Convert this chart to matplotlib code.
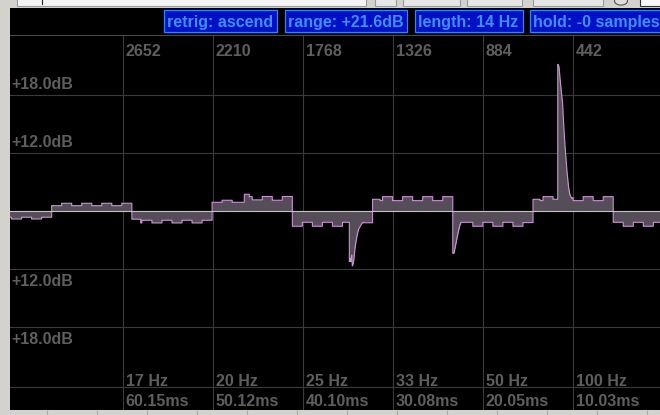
import matplotlib
matplotlib.use('Agg')
import matplotlib.pyplot as plt
from matplotlib.patches import Rectangle, Circle
import numpy as np

plt.rcParams['font.family'] = ['Liberation Sans', 'DejaVu Sans']

W, H = 660, 415

# envelope, one level (dB) per block step, left to right
step_start = 3246.25     # sample number at the left edge of the first step
step_len = 49.25         # samples per step
step_levels = [
    -0.65, -0.83, -0.65, -0.83, -0.65,
    0.55, 0.80, 0.55, 0.80, 0.55, 0.80, 0.55, 0.80,
    -0.85, -0.96, -1.24, -0.96, -1.24, -0.96, -1.24, -0.96,
    0.90, 1.11, 0.90, 0.90, 1.15, 1.50, 1.11, 1.50,
    -1.58, -1.17, -1.58, -1.17, -1.58, -1.17, -1.17, -1.22,
    1.21, 1.48, 1.07, 1.48, 1.07, 1.48, 1.07, 1.48,
    -1.17, -1.17, -1.58, -1.17, -1.58, -1.17, -1.58, -1.20,
    1.21, 1.48, 1.21, 1.38, 1.07, 1.48, 1.07, 1.48,
    -1.17, -1.58, -1.17, -1.58, -1.17,
]

# short level changes inside a step: (from sample, to sample, dB)
sub_steps = [
    (2562.6, 2556.75, -1.24),
    (2053.9, 2029.3, 1.73),
    (2029.3, 2015.0, 1.48),
    (1387.4, 1374.75, 1.07),
    (601.6, 586.75, 1.07),
]

# transients
dip1_s = [1538.2, 1534.7, 1531.3, 1526.4, 1523.4, 1518.5, 1515.1, 1510.2,
          1505.3, 1498.9, 1492.0, 1482.2, 1475.8, 1469.4]
dip1_db = [-5.24, -4.89, -5.24, -4.55, -5.69, -5.41, -4.89, -3.86,
           -3.18, -2.41, -1.86, -1.52, -1.27, -1.17]
dip2_s = [1030.0, 1024.0, 1019.1, 1014.1, 1007.8, 1000.9, 994.5, 989.6]
dip2_db = [-4.38, -4.38, -3.86, -3.34, -2.66, -1.97, -1.45, -1.17]
peak_s = [514.7, 508.3, 503.4, 498.5, 490.1, 486.2, 481.3, 475.4, 469.0,
          460.7, 454.3, 445.9, 441.0]
peak_db = [15.18, 14.93, 13.73, 12.69, 10.97, 9.24, 7.52, 5.79, 4.07,
           2.35, 1.66, 1.31, 1.38]

grid_samples = [2652, 2210, 1768, 1326, 884, 442]
freq_labels = ['17 Hz', '20 Hz', '25 Hz', '33 Hz', '50 Hz', '100 Hz']
time_labels = ['60.15ms', '50.12ms', '40.10ms', '30.08ms', '20.05ms', '10.03ms']
db_grid = [12, 6, -6, -12]
db_labels = ['+18.0dB', '+12.0dB', '+12.0dB', '+18.0dB']
status_labels = ['retrig: ascend', 'range: +21.6dB', 'length: 14 Hz', 'hold: -0 samples']
status_x = [(164, 276.5), (284.5, 407.4), (415.4, 522.7), (530.3, 670)]

# build the trace on a fine sample grid
s = np.arange(3250.0, 0.0, -0.25)
k = np.floor((step_start - s) / step_len).astype(int)
k = np.clip(k, 0, len(step_levels) - 1)
y = np.array(step_levels)[k]
for a, b, v in sub_steps:
    y[(s <= a) & (s > b)] = v
for xs, ys in [(dip1_s, dip1_db), (dip2_s, dip2_db), (peak_s, peak_db)]:
    xs = np.array(xs)
    m = (s <= xs[0]) & (s >= xs[-1])
    y[m] = np.interp(s[m], xs[::-1], np.array(ys)[::-1])

bg = '#d4d2cc'
grid_c = '#3a3a3a'
txt_c = '#5e5e5e'
fill_c = '#554d57'
line_c = '#c892d0'

fig = plt.figure(figsize=(W / 100, H / 100), dpi=100)
fig.patch.set_facecolor(bg)


def fx(px):
    return px / W


def fy(py):
    return 1 - py / H


ax = fig.add_axes([fx(10), fy(410), fx(650), (410 - 8) / H])
ax.set_facecolor('black')
for sp in ax.spines.values():
    sp.set_visible(False)
ax.set_xticks([])
ax.set_yticks([])
ax.set_xlim(3204.5, 12.3)
ax.set_ylim(-20.59, 21.0)

top_f = (410 - 35.5) / 402
sep_f = (410 - 387.3) / 402

for g in grid_samples:
    ax.axvline(g, ymin=0, ymax=top_f, color=grid_c, lw=0.8, zorder=1)
for d in db_grid:
    ax.axhline(d, color=grid_c, lw=0.8, zorder=1)
ax.plot([0, 1], [top_f, top_f], transform=ax.transAxes, color='#4a4a4a', lw=0.8, zorder=1)
ax.plot([0, 1], [sep_f, sep_f], transform=ax.transAxes, color=grid_c, lw=0.8, zorder=1)

ax.fill_between(s, y, 0, step='post', color=fill_c, lw=0, zorder=2)
ax.plot(s, y, drawstyle='steps-post', color=line_c, lw=0.8, zorder=3)
ax.axhline(0, color='#c4c4c4', lw=0.8, zorder=4)

fnt = dict(fontsize=11.5, fontweight='bold', color=txt_c)
for g, lab in zip(grid_samples, grid_samples):
    ax.annotate(str(lab), xy=(g, (410 - 56.3) / 402), xycoords=('data', 'axes fraction'),
                xytext=(3, 0), textcoords='offset pixels', va='baseline', ha='left', **fnt)
for g, fl, tl in zip(grid_samples, freq_labels, time_labels):
    ax.annotate(fl, xy=(g, (410 - 385.7) / 402), xycoords=('data', 'axes fraction'),
                xytext=(3, 0), textcoords='offset pixels', va='baseline', ha='left', **fnt)
    ax.annotate(tl, xy=(g, (410 - 406) / 402), xycoords=('data', 'axes fraction'),
                xytext=(3, 0), textcoords='offset pixels', va='baseline', ha='left', **fnt)
for d, lab in zip(db_grid, db_labels):
    off = 6 if d > 0 else -17.5
    ax.annotate(lab, xy=(0, d), xycoords=('axes fraction', 'data'),
                xytext=(1, off), textcoords='offset pixels', va='baseline', ha='left', **fnt)

# status boxes
for (x0, x1), lab in zip(status_x, status_labels):
    fig.add_artist(Rectangle((fx(x0), fy(32)), fx(x1 - x0), 22 / H, transform=fig.transFigure,
                             facecolor='#0010c4', edgecolor='#2a86ff', lw=0.9, zorder=5))
    fig.text(fx(x0 + 3), fy(26.5), lab, fontsize=11.5, fontweight='bold', color='#3f8fff',
             va='baseline', ha='left', zorder=6)

# window chrome at the top and edges
fig.add_artist(Rectangle((0, fy(8)), 1, 8 / H, transform=fig.transFigure,
                         facecolor=bg, edgecolor='none', zorder=5))
fig.add_artist(Rectangle((fx(17), fy(6.5)), fx(349), 8 / H, transform=fig.transFigure,
                         facecolor='#f4f4f4', edgecolor='#9a9a9a', lw=0.8, zorder=6))
fig.add_artist(plt.Line2D([fx(42), fx(42)], [fy(0), fy(4)], transform=fig.transFigure,
                          color='#222222', lw=0.8, zorder=7))
for x0, x1 in [(375, 396), (403, 460), (467, 522), (533, 603)]:
    fig.add_artist(Rectangle((fx(x0), fy(6.5)), fx(x1 - x0), 8 / H, transform=fig.transFigure,
                             facecolor='#e6e6e6', edgecolor='#9a9a9a', lw=0.8, zorder=6))
fig.add_artist(Circle((fx(621), fy(1)), 6.5 / W, transform=fig.transFigure,
                      facecolor='#dcdcdc', edgecolor='#555555', lw=0.8, zorder=6))
fig.add_artist(Rectangle((fx(640), fy(6.5)), fx(30), 8 / H, transform=fig.transFigure,
                         facecolor='#f8f8f8', edgecolor='#333333', lw=0.8, zorder=6))
for px in np.arange(47, 660, 50):
    fig.add_artist(plt.Line2D([fx(px), fx(px)], [fy(411), fy(415)], transform=fig.transFigure,
                              color='#a8a8a8', lw=0.8, zorder=6))

fig.savefig('out.png', dpi=100, facecolor=fig.get_facecolor())
